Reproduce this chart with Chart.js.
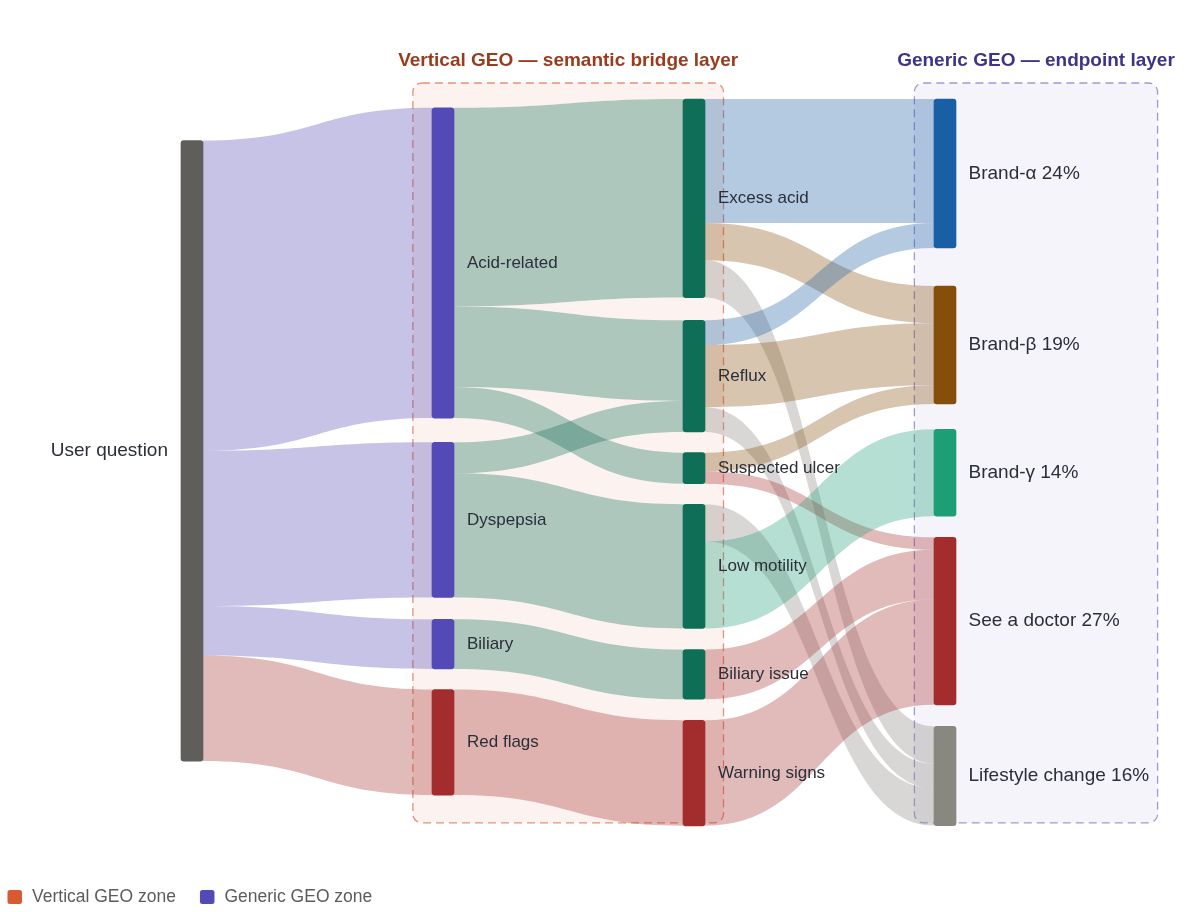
<!DOCTYPE html>
<html>
<head>
<meta charset="utf-8">
<title>GEO layers sankey</title>
<script src="https://cdn.jsdelivr.net/npm/chart.js@4.4.1/dist/chart.umd.min.js"></script>
<style>
  html, body { margin: 0; padding: 0; background: #fff; }
  #wrap { width: 1185px; height: 912px; }
</style>
</head>
<body>
<div id="wrap"><canvas id="chart" width="1185" height="912"></canvas></div>
<script>
// nodes
const nodeLabels = [
  "User question",
  "Acid-related", "Dyspepsia", "Biliary", "Red flags",
  "Excess acid", "Reflux", "Suspected ulcer", "Low motility", "Biliary issue", "Warning signs",
  "Brand-α", "Brand-β", "Brand-γ", "See a doctor", "Lifestyle change"
]
const nodeColumn = [0, 1, 1, 1, 1, 2, 2, 2, 2, 2, 2, 3, 3, 3, 3, 3]

// links (order = stacking order inside each node)
const linkSource = [0, 0, 0, 0, 1, 1, 1, 2, 2, 3, 4, 5, 5, 5, 6, 6, 6, 7, 7, 8, 8, 9, 10]
const linkTarget = [1, 2, 3, 4, 5, 6, 7, 6, 8, 9, 10, 11, 12, 15, 11, 12, 15, 12, 14, 15, 13, 14, 14]
const linkValue  = [50, 25, 8, 17, 32, 13, 5, 5, 20, 8, 17, 20, 6, 6, 4, 10, 4, 3, 2, 6, 14, 8, 17]

// layout: top of each node along the value axis
const nodeTop = [6.7, 1.42, 55.33, 83.85, 95.18, 0, 35.66, 56.99, 65.32, 88.73, 100.13, 0, 30.14, 53.23, 70.64, 101.1]

const nodeColors = [
  "#5f5e5a",
  "#534ab7", "#534ab7", "#534ab7", "#a32d2d",
  "#0f6e56", "#0f6e56", "#0f6e56", "#0f6e56", "#0f6e56", "#a32d2d",
  "#185fa5", "#854f0b", "#1d9e75", "#a32d2d", "#888780"
]

const zones = [
  { name: "Vertical GEO zone", title: "Vertical GEO — semantic bridge layer", color: "#d85a30", rgb: "216,90,48",
    titleColor: "#993c1d", x0: 0.88, x1: 2.1175, y0: -2.58, y1: 116.65, fill: 0.07, stroke: 0.65 },
  { name: "Generic GEO zone", title: "Generic GEO — endpoint layer", color: "#534ab7", rgb: "83,74,183",
    titleColor: "#3c3489", x0: 2.878, x1: 3.847, y0: -2.58, y1: 116.65, fill: 0.06, stroke: 0.55 }
]

const FONT = "'Liberation Sans', Arial, sans-serif"
const NODE_W = 22

// node values = max(in, out)
const inSum = nodeLabels.map(() => 0)
const outSum = nodeLabels.map(() => 0)
linkValue.forEach((v, i) => { outSum[linkSource[i]] += v; inSum[linkTarget[i]] += v })
const nodeValue = nodeLabels.map((_, i) => Math.max(inSum[i], outSum[i]))
const total = outSum[0]
const lastCol = Math.max(...nodeColumn)

function hexA(hex, a) {
  const n = parseInt(hex.slice(1), 16)
  return `rgba(${n >> 16},${(n >> 8) & 255},${n & 255},${a})`
}

function roundRect(ctx, x, y, w, h, r) {
  ctx.beginPath()
  ctx.moveTo(x + r, y)
  ctx.lineTo(x + w - r, y)
  ctx.arcTo(x + w, y, x + w, y + r, r)
  ctx.lineTo(x + w, y + h - r)
  ctx.arcTo(x + w, y + h, x + w - r, y + h, r)
  ctx.lineTo(x + r, y + h)
  ctx.arcTo(x, y + h, x, y + h - r, r)
  ctx.lineTo(x, y + r)
  ctx.arcTo(x, y, x + r, y, r)
  ctx.closePath()
}

const sankeyPlugin = {
  id: "sankey",
  beforeDatasetsDraw(chart) {
    const { ctx, scales: { x, y } } = chart
    ctx.save()

    // zone boxes
    zones.forEach(z => {
      const left = x.getPixelForValue(z.x0), right = x.getPixelForValue(z.x1)
      const top = y.getPixelForValue(z.y0), bottom = y.getPixelForValue(z.y1)
      roundRect(ctx, left, top, right - left, bottom - top, 9)
      ctx.fillStyle = `rgba(${z.rgb},${z.fill})`
      ctx.fill()
      ctx.setLineDash([8, 5])
      ctx.lineWidth = 1.3
      ctx.strokeStyle = `rgba(${z.rgb},${z.stroke})`
      ctx.stroke()
      ctx.setLineDash([])
    })

    // links
    const outOff = nodeLabels.map(() => 0)
    const inOff = nodeLabels.map(() => 0)
    linkValue.forEach((v, i) => {
      const s = linkSource[i], t = linkTarget[i]
      const x0 = x.getPixelForValue(nodeColumn[s]) + NODE_W / 2
      const x1 = x.getPixelForValue(nodeColumn[t]) - NODE_W / 2
      const s0 = y.getPixelForValue(nodeTop[s] + outOff[s])
      const s1 = y.getPixelForValue(nodeTop[s] + outOff[s] + v)
      const t0 = y.getPixelForValue(nodeTop[t] + inOff[t])
      const t1 = y.getPixelForValue(nodeTop[t] + inOff[t] + v)
      outOff[s] += v
      inOff[t] += v
      const xm = (x0 + x1) / 2
      ctx.beginPath()
      ctx.moveTo(x0, s0)
      ctx.bezierCurveTo(xm, s0, xm, t0, x1, t0)
      ctx.lineTo(x1, t1)
      ctx.bezierCurveTo(xm, t1, xm, s1, x0, s1)
      ctx.closePath()
      ctx.fillStyle = hexA(nodeColors[t], 0.33)
      ctx.fill()
    })
    ctx.restore()
  },
  afterDatasetsDraw(chart) {
    const { ctx, scales: { x, y } } = chart
    ctx.save()

    // node labels
    ctx.textBaseline = "middle"
    nodeLabels.forEach((name, i) => {
      const col = nodeColumn[i]
      const cx = x.getPixelForValue(col)
      const cy = y.getPixelForValue(nodeTop[i] + nodeValue[i] / 2)
      ctx.fillStyle = "#2b2f38"
      if (col === 0) {
        ctx.font = `19px ${FONT}`
        ctx.textAlign = "right"
        ctx.fillText(name, cx - 24, cy)
      } else if (col === lastCol) {
        ctx.font = `19px ${FONT}`
        ctx.textAlign = "left"
        ctx.fillText(`${name} ${Math.round(inSum[i] / total * 100)}%`, cx + 23.5, cy)
      } else {
        ctx.font = `17px ${FONT}`
        ctx.textAlign = "left"
        ctx.fillText(name, cx + 24, cy)
      }
    })

    // zone titles
    ctx.textBaseline = "alphabetic"
    ctx.textAlign = "center"
    ctx.font = `bold 19px ${FONT}`
    zones.forEach(z => {
      const mid = (x.getPixelForValue(z.x0) + x.getPixelForValue(z.x1)) / 2
      ctx.fillStyle = z.titleColor
      ctx.fillText(z.title, mid, y.getPixelForValue(z.y0) - 16.5)
    })

    // legend
    ctx.textAlign = "left"
    ctx.textBaseline = "middle"
    ctx.font = `17.5px ${FONT}`
    let lx = 7.5
    zones.forEach(z => {
      roundRect(ctx, lx, 890, 14.5, 14, 2.5)
      ctx.fillStyle = z.color
      ctx.fill()
      ctx.fillStyle = "#5c5c5c"
      ctx.fillText(z.name, lx + 24.5, 897.5)
      lx += 24.5 + ctx.measureText(z.name).width + 24
    })
    ctx.restore()
  }
}

new Chart(document.getElementById("chart"), {
  type: "bar",
  data: {
    datasets: [{
      data: nodeLabels.map((_, i) => ({ x: nodeColumn[i], y: [nodeTop[i], nodeTop[i] + nodeValue[i]] })),
      backgroundColor: nodeColors,
      borderRadius: 3,
      borderSkipped: false,
      barThickness: NODE_W,
      clip: false
    }]
  },
  options: {
    responsive: false,
    animation: false,
    events: [],
    layout: { padding: { left: 192, right: 240, top: 99, bottom: 87 } },
    plugins: { legend: { display: false }, tooltip: { enabled: false } },
    scales: {
      x: { type: "linear", min: 0, max: 3, offset: false, display: false },
      y: { type: "linear", min: 0, max: 117, reverse: true, display: false }
    }
  },
  plugins: [sankeyPlugin]
})
</script>
</body>
</html>
